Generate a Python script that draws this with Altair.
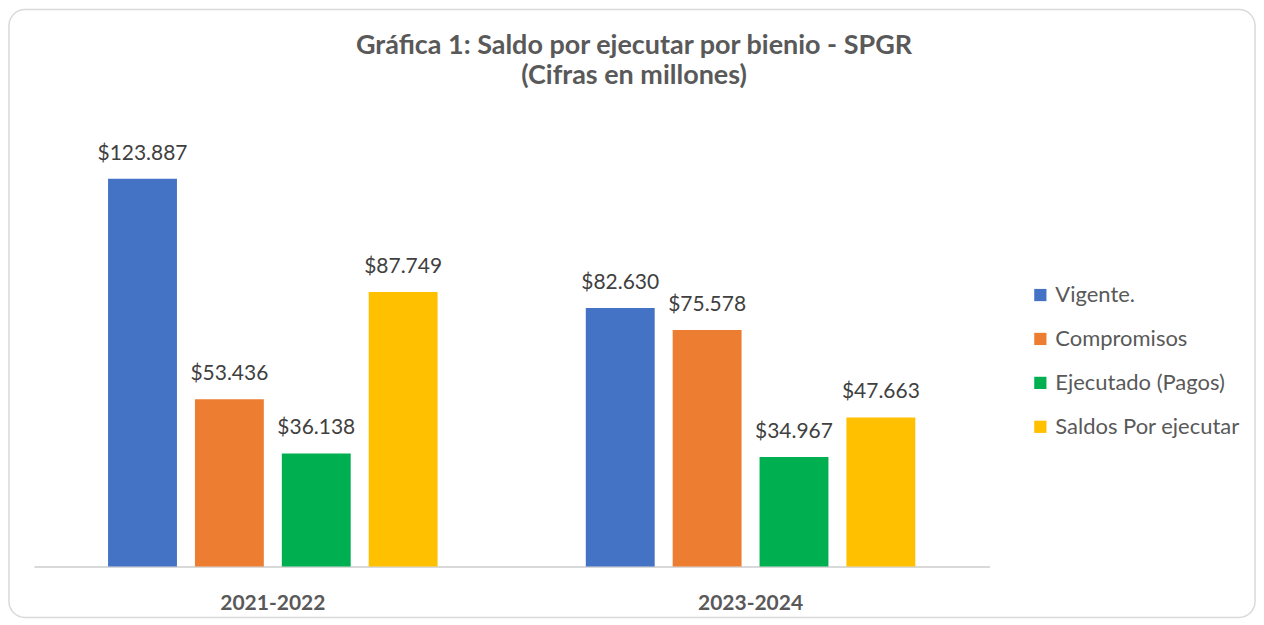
import altair as alt
import pandas as pd

periods = ["2021-2022", "2023-2024"]
series = ["Vigente.", "Compromisos", "Ejecutado (Pagos)", "Saldos Por ejecutar"]
colors = ["#4472C4", "#ED7D31", "#00B050", "#FFC000"]
vals_2021 = [123887, 53436, 36138, 87749]
vals_2023 = [82630, 75578, 34967, 47663]
title_lines = ["Gráfica 1: Saldo por ejecutar por bienio - SPGR", "(Cifras en millones)"]

rows = []
for p, vals in zip(periods, [vals_2021, vals_2023]):
    for s, v in zip(series, vals):
        rows.append({"periodo": p, "serie": s, "valor": v,
                     "etiqueta": "$" + f"{v:,}".replace(",", ".")})
df = pd.DataFrame(rows)

FONT = "Lato"

base = alt.Chart(df).encode(
    x=alt.X("periodo:N", sort=periods, title=None,
            scale=alt.Scale(paddingInner=0, paddingOuter=0),
            axis=alt.Axis(labelAngle=0, labelFontSize=21, labelFontWeight="bold",
                          labelColor="#595959", labelFont=FONT, ticks=False,
                          domainColor="#D9D9D9", domainWidth=2, labelPadding=26)),
    xOffset=alt.XOffset("serie:N", sort=series,
                        scale=alt.Scale(paddingInner=0.207, paddingOuter=0.853)),
    y=alt.Y("valor:Q", scale=alt.Scale(domain=[0, 140000]), axis=None),
)

bars = base.mark_bar().encode(
    color=alt.Color("serie:N", sort=series,
                    scale=alt.Scale(domain=series, range=colors),
                    legend=alt.Legend(orient="none", legendX=997, legendY=156,
                                      title=None, symbolType="square", symbolSize=150,
                                      symbolStrokeWidth=0, labelFontSize=22,
                                      labelFont=FONT, labelColor="#595959",
                                      labelLimit=400, rowPadding=22, labelOffset=4))
)

labels = base.mark_text(baseline="alphabetic", dy=-19, fontSize=21, font=FONT,
                        color="#404040").encode(text="etiqueta:N")

one = pd.DataFrame({"k": [0]})

frame = alt.Chart(one).mark_rect(fillOpacity=0, stroke="#D9D9D9", strokeWidth=1.5,
                                 cornerRadius=16).encode(
    x=alt.value(-25), x2=alt.value(1223), y=alt.value(-119), y2=alt.value(490))

t1 = alt.Chart(one).mark_text(fontSize=27, fontWeight="bold", font=FONT,
                              color="#595959").encode(
    x=alt.value(601), y=alt.value(-82), text=alt.value(title_lines[0]))
t2 = alt.Chart(one).mark_text(fontSize=27, fontWeight="bold", font=FONT,
                              color="#595959").encode(
    x=alt.value(601), y=alt.value(-52), text=alt.value(title_lines[1]))

chart = alt.layer(frame, bars, labels, t1, t2).properties(
    width=957, height=439, padding=0
).configure(background="white").configure_view(stroke=None, strokeWidth=0)

chart.save("out.html", embed_options={"renderer": "svg", "actions": False})
